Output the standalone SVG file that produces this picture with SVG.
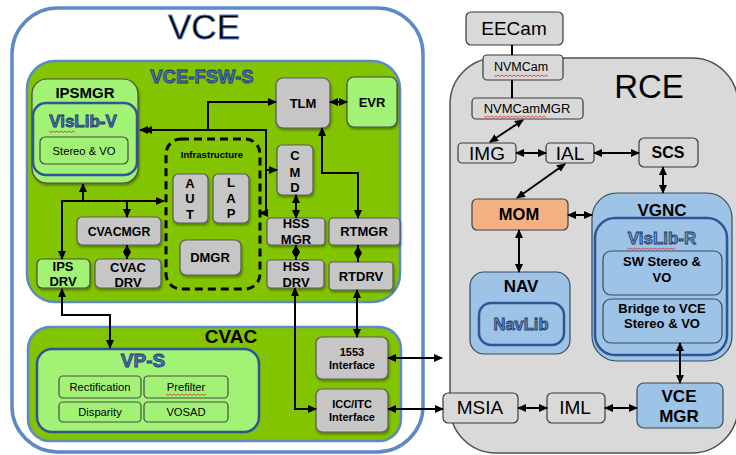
<svg xmlns="http://www.w3.org/2000/svg" width="736" height="455" viewBox="0 0 736 455">
<style>
text{font-family:"Liberation Sans",Arial,sans-serif;text-anchor:middle;fill:#000}
.b{font-weight:bold}
.gray{fill:#c6c6c6;stroke:#5a5a5a;stroke-width:1.2}
.rg{fill:#d9d9d9;stroke:#3a3a3a;stroke-width:1.2}
.lg{fill:#a2f276;stroke:#4a4a4a;stroke-width:1.2}
.lb{fill:#9dc3e6;stroke:#3a4a5a;stroke-width:1.2}
.cont{fill:#82c400;stroke:#5b8ac6;stroke-width:2.5}
.lib{stroke:#2f5597;stroke-width:2.5}
.ol{fill:#4472c4;stroke:#1f3864;stroke-width:0.8;font-weight:bold}
.con{fill:none;stroke:#000;stroke-width:2}
.sq{fill:none;stroke:#e03030;stroke-width:0.8}
</style>
<defs>
<marker id="ah" markerUnits="userSpaceOnUse" markerWidth="9" markerHeight="8" refX="8" refY="4" orient="auto-start-reverse"><path d="M0,0 L9,4 L0,8 z" fill="#000"/></marker>
<filter id="sh" x="-10%" y="-10%" width="130%" height="140%"><feDropShadow dx="1" dy="2" stdDeviation="1.2" flood-opacity="0.35"/></filter>
</defs>
<rect width="736" height="455" fill="#fff"/>

<g id="VCE">
<rect x="12" y="8" width="411" height="444" rx="46" fill="#fff" stroke="#5b8ac6" stroke-width="3.5"/>
<text x="204" y="39" font-size="35" fill="#2e4a72" stroke="#5b8ac6" stroke-width="0.8">VCE</text>
</g>
<g id="VCE-FSW-S">
<rect class="cont" x="27" y="61" width="373" height="241" rx="28"/>
<text class="ol" x="202" y="83" font-size="18.5">VCE-FSW-S</text>
</g>
<g id="CVAC">
<rect class="cont" x="28" y="327" width="373" height="114" rx="22"/>
<text class="b" x="231" y="343" font-size="19">CVAC</text>
</g>
<g id="RCE">
<rect x="450" y="58" width="288" height="395" rx="46" fill="#d9d9d9" stroke="#505050" stroke-width="1.5"/>
<text x="649" y="98" font-size="33">RCE</text>
</g>

<g id="IPSMGR">
<rect class="lg" x="32" y="79" width="106" height="104" rx="15" filter="url(#sh)"/>
<text class="b" x="85" y="98" font-size="15">IPSMGR</text>
</g>
<g id="VisLib-V">
<rect class="lib" x="33" y="103" width="104" height="72" rx="13" fill="#a2f276"/>
<text class="ol" x="83" y="127" font-size="17">VisLib-V</text>
<path class="sq" d="M49,131 l2,1.5 2,-1.5 2,1.5 2,-1.5 2,1.5 2,-1.5 2,1.5 2,-1.5 2,1.5 2,-1.5 2,1.5 2,-1.5 2,1.5"/>
</g>
<g id="StereoVO">
<rect class="lg" x="40" y="137" width="88" height="27" rx="5"/>
<text x="84" y="155" font-size="11.2">Stereo &amp; VO</text>
</g>
<g id="TLM">
<rect class="gray" x="276" y="78" width="54" height="50" rx="7" filter="url(#sh)"/>
<text class="b" x="303" y="108" font-size="13">TLM</text>
</g>
<g id="EVR">
<rect class="lg" x="347" y="77" width="50" height="50" rx="7" filter="url(#sh)"/>
<text class="b" x="372" y="107" font-size="13">EVR</text>
</g>
<g id="Infrastructure">
<rect x="166" y="139" width="94" height="150" rx="15" fill="none" stroke="#000" stroke-width="3" stroke-dasharray="8,5"/>
<text class="b" x="212" y="158" font-size="9.6">Infrastructure</text>
</g>
<g id="AUT">
<rect class="gray" x="173" y="174" width="35" height="49" rx="5" filter="url(#sh)"/>
<text class="b" x="190" y="188" font-size="13">A</text>
<text class="b" x="190" y="203" font-size="13">U</text>
<text class="b" x="190" y="219" font-size="13">T</text>
</g>
<g id="LAP">
<rect class="gray" x="213" y="174" width="36" height="49" rx="5" filter="url(#sh)"/>
<text class="b" x="231" y="187" font-size="13">L</text>
<text class="b" x="231" y="203" font-size="13">A</text>
<text class="b" x="231" y="218" font-size="13">P</text>
</g>
<g id="DMGR">
<rect class="gray" x="180" y="240" width="61" height="35" rx="6" filter="url(#sh)"/>
<text class="b" x="210" y="262" font-size="13">DMGR</text>
</g>
<g id="CMD">
<rect class="gray" x="277" y="145" width="36" height="50" rx="5" filter="url(#sh)"/>
<text class="b" x="295" y="160" font-size="13">C</text>
<text class="b" x="295" y="177" font-size="13">M</text>
<text class="b" x="295" y="192" font-size="13">D</text>
</g>
<g id="HSSMGR">
<rect class="gray" x="267" y="218" width="58" height="27" rx="4" filter="url(#sh)"/>
<text class="b" x="296" y="228" font-size="13">HSS</text>
<text class="b" x="296" y="244" font-size="13">MGR</text>
</g>
<g id="RTMGR">
<rect class="gray" x="329" y="218" width="71" height="27" rx="4" filter="url(#sh)"/>
<text class="b" x="364" y="236" font-size="13">RTMGR</text>
</g>
<g id="HSSDRV">
<rect class="gray" x="267" y="260" width="57" height="28" rx="4" filter="url(#sh)"/>
<text class="b" x="296" y="271" font-size="13">HSS</text>
<text class="b" x="296" y="287" font-size="13">DRV</text>
</g>
<g id="RTDRV">
<rect class="gray" x="329" y="262" width="64" height="28" rx="4" filter="url(#sh)"/>
<text class="b" x="361" y="281" font-size="13">RTDRV</text>
</g>
<g id="CVACMGR">
<rect class="gray" x="77" y="217" width="84" height="28" rx="5" filter="url(#sh)"/>
<text class="b" x="119" y="236" font-size="12.3">CVACMGR</text>
</g>
<g id="CVACDRV">
<rect class="gray" x="95" y="259" width="66" height="29" rx="5" filter="url(#sh)"/>
<text class="b" x="128" y="272" font-size="13">CVAC</text>
<text class="b" x="128" y="287" font-size="13">DRV</text>
</g>
<g id="IPSDRV">
<rect class="lg" x="37" y="259" width="53" height="29" rx="5" filter="url(#sh)"/>
<text class="b" x="63" y="271" font-size="13">IPS</text>
<text class="b" x="63" y="286" font-size="13">DRV</text>
</g>
<g id="VP-S">
<rect class="lib" x="37" y="349" width="222" height="83" rx="15" fill="#a2f276"/>
<text class="ol" x="143" y="367" font-size="19">VP-S</text>
</g>
<g id="Rectification">
<rect class="lg" x="59" y="376" width="82" height="22" rx="4"/>
<text x="100" y="391" font-size="11.2">Rectification</text>
</g>
<g id="Prefilter">
<rect class="lg" x="144" y="376" width="84" height="22" rx="4"/>
<text x="186" y="391" font-size="11.2">Prefilter</text>
<path class="sq" d="M166,394 l2,1.5 2,-1.5 2,1.5 2,-1.5 2,1.5 2,-1.5 2,1.5 2,-1.5 2,1.5 2,-1.5 2,1.5 2,-1.5 2,1.5 2,-1.5 2,1.5 2,-1.5 2,1.5 2,-1.5 2,1.5 2,-1.5"/>
</g>
<g id="Disparity">
<rect class="lg" x="59" y="402" width="82" height="20" rx="4"/>
<text x="100" y="416" font-size="11.2">Disparity</text>
</g>
<g id="VOSAD">
<rect class="lg" x="144" y="402" width="84" height="20" rx="4"/>
<text x="186" y="416" font-size="11.2">VOSAD</text>
</g>
<g id="I1553">
<rect class="gray" x="316" y="337" width="72" height="42" rx="6" filter="url(#sh)"/>
<text class="b" x="352" y="356" font-size="11">1553</text>
<text class="b" x="352" y="369" font-size="11">Interface</text>
</g>
<g id="ICCITC">
<rect class="gray" x="316" y="389" width="72" height="43" rx="6" filter="url(#sh)"/>
<text class="b" x="352" y="408" font-size="11">ICC/ITC</text>
<text class="b" x="352" y="421" font-size="11">Interface</text>
</g>

<g id="EECam">
<rect class="rg" x="466" y="12" width="97" height="33" rx="5"/>
<text x="514" y="35" font-size="19">EECam</text>
</g>
<g id="NVMCam">
<rect class="rg" x="483" y="55" width="80" height="25" rx="4"/>
<text x="521" y="71" font-size="12.5">NVMCam</text>
<path class="sq" d="M494,75 l2,1.5 2,-1.5 2,1.5 2,-1.5 2,1.5 2,-1.5 2,1.5 2,-1.5 2,1.5 2,-1.5 2,1.5 2,-1.5 2,1.5 2,-1.5 2,1.5 2,-1.5 2,1.5 2,-1.5 2,1.5 2,-1.5 2,1.5 2,-1.5 2,1.5 2,-1.5 2,1.5 2,-1.5 2,1.5"/>
</g>
<g id="NVMCamMGR">
<rect class="rg" x="472" y="98" width="111" height="21" rx="4"/>
<text x="527" y="113" font-size="13">NVMCamMGR</text>
<path class="sq" d="M484,116 l2,1.5 2,-1.5 2,1.5 2,-1.5 2,1.5 2,-1.5 2,1.5 2,-1.5 2,1.5 2,-1.5 2,1.5 2,-1.5 2,1.5 2,-1.5 2,1.5 2,-1.5 2,1.5 2,-1.5 2,1.5 2,-1.5 2,1.5 2,-1.5 2,1.5 2,-1.5 2,1.5 2,-1.5 2,1.5 2,-1.5 2,1.5 2,-1.5 2,1.5"/>
</g>
<g id="IMG">
<rect class="rg" x="458" y="143" width="58" height="20" rx="4"/>
<text x="487" y="160" font-size="19">IMG</text>
</g>
<g id="IAL">
<rect class="rg" x="546" y="143" width="48" height="20" rx="4"/>
<text x="570" y="160" font-size="19">IAL</text>
</g>
<g id="SCS">
<rect class="rg" x="639" y="138" width="59" height="29" rx="5"/>
<text class="b" x="668" y="158" font-size="16">SCS</text>
</g>
<g id="MOM">
<rect x="472" y="199" width="96" height="31" rx="5" fill="#f4b183" stroke="#404040" stroke-width="1.2"/>
<text class="b" x="519" y="220" font-size="16.5">MOM</text>
</g>
<g id="NAV">
<rect class="lb" x="470" y="272" width="100" height="82" rx="14"/>
<text class="b" x="521" y="292" font-size="17">NAV</text>
</g>
<g id="NavLib">
<rect class="lib" x="479" y="303" width="85" height="42" rx="12" fill="#9dc3e6"/>
<text class="ol" x="521" y="330" font-size="16.5" style="fill:#5b8ac6">NavLib</text>
</g>
<g id="VGNC">
<rect class="lb" x="592" y="193" width="140" height="168" rx="25"/>
<text class="b" x="662" y="216" font-size="17">VGNC</text>
</g>
<g id="VisLib-R">
<rect class="lib" x="595" y="218" width="132" height="137" rx="20" fill="#9dc3e6" stroke-width="3"/>
<text class="ol" x="662" y="244" font-size="17" style="fill:#6f98d2">VisLib-R</text>
<path class="sq" d="M627,248 l2,1.5 2,-1.5 2,1.5 2,-1.5 2,1.5 2,-1.5 2,1.5 2,-1.5 2,1.5 2,-1.5 2,1.5 2,-1.5 2,1.5 2,-1.5 2,1.5 2,-1.5 2,1.5 2,-1.5 2,1.5 2,-1.5 2,1.5 2,-1.5 2,1.5 2,-1.5"/>
</g>
<g id="SWStereo">
<rect class="lb" x="603" y="251" width="119" height="44" rx="8"/>
<text class="b" x="662" y="266" font-size="13">SW Stereo &amp;</text>
<text class="b" x="662" y="282" font-size="13">VO</text>
</g>
<g id="Bridge">
<rect class="lb" x="603" y="299" width="119" height="44" rx="8"/>
<text class="b" x="662" y="313" font-size="13">Bridge to VCE</text>
<text class="b" x="662" y="328" font-size="13">Stereo &amp; VO</text>
</g>
<g id="VCEMGR">
<rect class="lb" x="637" y="383" width="86" height="45" rx="7"/>
<text class="b" x="679" y="402" font-size="17">VCE</text>
<text class="b" x="679" y="422" font-size="17">MGR</text>
</g>
<g id="MSIA">
<rect class="rg" x="443" y="393" width="75" height="30" rx="5"/>
<text x="480" y="414" font-size="19">MSIA</text>
</g>
<g id="IML">
<rect class="rg" x="547" y="393" width="58" height="30" rx="5"/>
<text x="575" y="414" font-size="19">IML</text>
</g>

<g id="connectors">
<path class="con" d="M62,259 L62,201 L164,201" marker-start="url(#ah)" marker-end="url(#ah)"/>
<path class="con" d="M83,201 L83,184" marker-end="url(#ah)"/>
<path class="con" d="M127,201 L127,217" marker-end="url(#ah)"/>
<path class="con" d="M62,289 L62,315 L110,315 L110,348" marker-start="url(#ah)" marker-end="url(#ah)"/>
<path class="con" d="M140,130 L266,130 L266,213 L260,213" marker-start="url(#ah)" marker-end="url(#ah)"/>
<path d="M144,130 L152,126 L152,134 z" fill="#000"/>
<path class="con" d="M208,130 L208,102 L276,102" marker-end="url(#ah)"/>
<path class="con" d="M266,170 L277,170" marker-end="url(#ah)"/>
<path class="con" d="M330,102 L347,102" marker-start="url(#ah)" marker-end="url(#ah)"/>
<path class="con" d="M322,128 L322,173 L358,173 L358,218" marker-start="url(#ah)" marker-end="url(#ah)"/>
<path class="con" d="M296,195 L296,218" marker-start="url(#ah)" marker-end="url(#ah)"/>
<path class="con" d="M296,245 L296,260"/>
<path d="M296,245 L300,252 L296,259 L292,252 z" fill="#000"/>
<path class="con" d="M358,245 L358,262"/>
<path d="M358,246 L362,253 L358,260 L354,253 z" fill="#000"/>
<path class="con" d="M127,245 L127,259"/>
<path d="M127,245 L131,252 L127,259 L123,252 z" fill="#000"/>
<path class="con" d="M295,288 L295,409 L316,409" marker-start="url(#ah)" marker-end="url(#ah)"/>
<path class="con" d="M357,290 L357,337" marker-start="url(#ah)" marker-end="url(#ah)"/>
<path class="con" d="M388,358 L442,358" marker-start="url(#ah)" marker-end="url(#ah)"/>
<path class="con" d="M388,409 L443,409" marker-start="url(#ah)" marker-end="url(#ah)"/>
<path class="con" d="M512,45 L512,55"/>
<path class="con" d="M512,80 L512,98"/>
<path class="con" d="M523,120 L490,142" marker-start="url(#ah)" marker-end="url(#ah)"/>
<path class="con" d="M516,153 L546,153" marker-start="url(#ah)" marker-end="url(#ah)"/>
<path class="con" d="M594,153 L639,153" marker-start="url(#ah)" marker-end="url(#ah)"/>
<path class="con" d="M565,164 L517,198" marker-start="url(#ah)" marker-end="url(#ah)"/>
<path class="con" d="M663,167 L663,193" marker-start="url(#ah)" marker-end="url(#ah)"/>
<path class="con" d="M568,215 L592,215" marker-start="url(#ah)" marker-end="url(#ah)"/>
<path class="con" d="M519,230 L519,272" marker-start="url(#ah)" marker-end="url(#ah)"/>
<path class="con" d="M680,343 L680,383" marker-start="url(#ah)" marker-end="url(#ah)"/>
<path class="con" d="M518,408 L547,408" marker-start="url(#ah)" marker-end="url(#ah)"/>
<path class="con" d="M605,408 L637,408" marker-start="url(#ah)" marker-end="url(#ah)"/>
</g>
</svg>
